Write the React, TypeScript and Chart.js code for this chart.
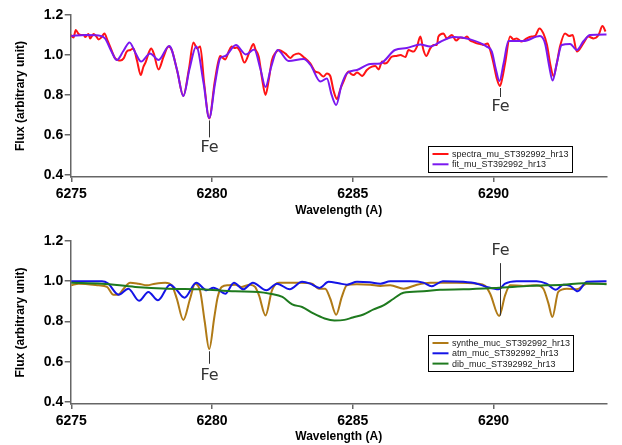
import React, { useEffect, useRef } from "react";
import { Chart, registerables } from "chart.js";
Chart.register(...registerables);

// ---- tick labels ----
const xTicks = [6275, 6280, 6285, 6290];
const yTicks = [0.4, 0.6, 0.8, 1.0, 1.2];

// ---- top panel: observed spectrum ----
const spectraWave = [6274.98, 6275.08, 6275.16, 6275.26, 6275.35, 6275.44, 6275.5, 6275.61, 6275.67, 6275.79, 6275.88, 6275.97, 6276.08, 6276.18, 6276.28, 6276.38, 6276.56, 6276.65, 6276.74, 6276.86, 6276.97, 6277.1, 6277.21, 6277.33, 6277.47, 6277.56, 6277.65, 6277.75, 6277.84, 6277.93, 6278.1, 6278.28, 6278.45, 6278.57, 6278.78, 6278.98, 6279.18, 6279.34, 6279.47, 6279.58, 6279.72, 6279.9, 6280.1, 6280.29, 6280.47, 6280.6, 6280.7, 6280.8, 6280.88, 6281.0, 6281.15, 6281.35, 6281.47, 6281.55, 6281.66, 6281.78, 6281.9, 6282.02, 6282.13, 6282.25, 6282.37, 6282.6, 6282.78, 6282.9, 6283.08, 6283.25, 6283.49, 6283.67, 6283.79, 6283.96, 6284.08, 6284.2, 6284.32, 6284.44, 6284.56, 6284.67, 6284.85, 6284.94, 6285.03, 6285.15, 6285.24, 6285.33, 6285.5, 6285.68, 6285.8, 6285.92, 6286.04, 6286.13, 6286.22, 6286.39, 6286.55, 6286.69, 6286.87, 6286.98, 6287.16, 6287.28, 6287.4, 6287.51, 6287.61, 6287.75, 6287.87, 6287.99, 6288.04, 6288.22, 6288.34, 6288.52, 6288.67, 6288.82, 6288.95, 6289.06, 6289.17, 6289.3, 6289.41, 6289.53, 6289.64, 6289.79, 6289.88, 6290.0, 6290.12, 6290.23, 6290.32, 6290.41, 6290.59, 6290.71, 6290.82, 6291.0, 6291.18, 6291.36, 6291.48, 6291.63, 6291.77, 6291.9, 6292.02, 6292.13, 6292.25, 6292.36, 6292.54, 6292.69, 6292.81, 6292.96, 6293.19, 6293.37, 6293.55, 6293.73, 6293.87, 6293.98];
const spectraFlux = [1.1, 1.088, 1.125, 1.105, 1.1, 1.1, 1.09, 1.105, 1.083, 1.105, 1.095, 1.078, 1.09, 1.108, 1.075, 1.042, 0.983, 0.975, 0.972, 0.983, 1.017, 1.025, 1.033, 0.975, 0.9, 0.94, 0.967, 1.01, 1.033, 1.008, 0.928, 0.992, 1.042, 1.025, 0.91, 0.795, 0.93, 1.062, 1.033, 1.042, 0.86, 0.683, 0.87, 0.995, 0.978, 1.02, 1.042, 1.035, 1.038, 1.017, 0.962, 1.022, 1.055, 1.025, 0.992, 0.88, 0.8, 0.88, 0.975, 1.01, 1.025, 1.008, 0.985, 1.0, 1.008, 0.99, 0.958, 0.917, 0.912, 0.892, 0.908, 0.895, 0.82, 0.78, 0.83, 0.867, 0.917, 0.905, 0.9, 0.912, 0.905, 0.895, 0.925, 0.942, 0.945, 0.928, 0.967, 0.958, 0.962, 0.992, 0.995, 1.0, 0.99, 1.025, 1.017, 1.042, 1.092, 1.025, 0.995, 1.033, 1.05, 1.05, 1.092, 1.108, 1.083, 1.1, 1.072, 1.088, 1.085, 1.092, 1.072, 1.065, 1.058, 1.055, 1.05, 1.058, 1.025, 0.958, 0.88, 0.845, 0.89, 0.958, 1.092, 1.078, 1.083, 1.067, 1.083, 1.092, 1.095, 1.133, 1.108, 1.05, 0.95, 0.895, 0.96, 1.042, 1.108, 1.095, 1.1, 1.017, 1.058, 1.092, 1.083, 1.1, 1.145, 1.117];

// ---- top panel: fit ----
const fitWave = [6275.0, 6275.5, 6275.97, 6276.2, 6276.42, 6276.62, 6276.85, 6277.07, 6277.28, 6277.48, 6277.8, 6278.1, 6278.48, 6278.75, 6278.98, 6279.2, 6279.44, 6279.7, 6279.9, 6280.11, 6280.29, 6280.47, 6280.85, 6281.2, 6281.5, 6281.72, 6281.9, 6282.1, 6282.33, 6282.72, 6283.25, 6283.5, 6283.85, 6284.08, 6284.25, 6284.41, 6284.6, 6284.79, 6285.15, 6285.62, 6285.98, 6286.5, 6286.92, 6287.4, 6287.75, 6288.1, 6288.58, 6289.17, 6289.76, 6289.94, 6290.08, 6290.21, 6290.36, 6290.53, 6291.06, 6291.65, 6291.83, 6291.97, 6292.1, 6292.25, 6292.42, 6292.72, 6292.96, 6293.2, 6293.43, 6294.02];
const fitFlux = [1.095, 1.1, 1.098, 1.083, 1.02, 0.975, 1.02, 1.063, 1.01, 0.967, 1.008, 0.975, 1.045, 0.93, 0.795, 0.93, 1.042, 0.86, 0.685, 0.86, 0.983, 0.995, 1.05, 1.003, 1.028, 0.93, 0.84, 0.94, 1.025, 0.97, 0.98, 0.95, 0.867, 0.883, 0.8, 0.75, 0.85, 0.908, 0.925, 0.955, 0.958, 1.025, 1.035, 1.053, 1.042, 1.065, 1.09, 1.078, 1.042, 1.017, 0.93, 0.87, 0.96, 1.07, 1.07, 1.095, 1.058, 0.95, 0.872, 0.96, 1.05, 1.055, 1.025, 1.07, 1.1, 1.103];

// ---- bottom panel: synthetic stellar ----
const syntheWave = [6275.0, 6275.26, 6275.97, 6276.27, 6276.5, 6276.66, 6276.86, 6277.09, 6277.39, 6277.69, 6277.98, 6278.34, 6278.57, 6278.75, 6278.98, 6279.22, 6279.4, 6279.58, 6279.74, 6279.9, 6280.08, 6280.2, 6280.35, 6280.58, 6280.82, 6281.05, 6281.35, 6281.53, 6281.67, 6281.9, 6282.13, 6282.37, 6283.14, 6283.55, 6283.79, 6284.02, 6284.2, 6284.41, 6284.61, 6284.79, 6285.15, 6285.62, 6285.98, 6286.33, 6286.81, 6287.28, 6287.75, 6288.69, 6289.41, 6289.7, 6289.88, 6290.2, 6290.41, 6290.59, 6291.06, 6291.53, 6291.77, 6291.95, 6292.09, 6292.3, 6292.6, 6292.96, 6293.31, 6294.02];
const syntheFlux = [0.98, 0.988, 0.98, 0.972, 0.933, 0.933, 0.963, 0.993, 0.988, 0.98, 0.988, 0.993, 0.98, 0.913, 0.808, 0.913, 0.988, 0.95, 0.8, 0.663, 0.82, 0.92, 0.972, 0.98, 0.983, 0.972, 0.983, 0.972, 0.93, 0.83, 0.955, 0.993, 0.993, 0.988, 0.963, 0.963, 0.913, 0.833, 0.922, 0.98, 0.985, 0.983, 0.977, 0.98, 0.963, 0.983, 0.993, 0.993, 0.988, 0.977, 0.938, 0.827, 0.93, 0.98, 0.977, 0.98, 0.963, 0.89, 0.822, 0.947, 0.963, 0.96, 0.988, 0.988];

// ---- bottom panel: telluric ----
const atmWave = [6275.0, 6275.5, 6276.09, 6276.3, 6276.68, 6277.03, 6277.41, 6277.74, 6278.08, 6278.51, 6278.72, 6279.02, 6279.44, 6279.81, 6280.05, 6280.17, 6280.47, 6280.78, 6281.11, 6281.45, 6281.93, 6282.31, 6282.76, 6283.2, 6283.49, 6283.82, 6284.14, 6284.5, 6284.79, 6285.15, 6285.6, 6285.98, 6286.33, 6287.04, 6287.51, 6287.8, 6288.2, 6288.93, 6289.41, 6289.76, 6290.18, 6290.41, 6290.82, 6291.53, 6291.88, 6292.21, 6292.48, 6292.72, 6292.99, 6293.31, 6294.02];
const atmFlux = [1.0, 1.0, 1.0, 0.99, 0.933, 0.963, 0.903, 0.947, 0.905, 0.983, 0.96, 0.918, 0.993, 0.955, 0.968, 0.962, 0.938, 0.993, 0.96, 0.993, 0.955, 0.988, 0.96, 0.997, 0.988, 0.967, 0.997, 0.99, 0.983, 0.997, 0.995, 0.988, 1.0, 1.0, 0.993, 0.975, 1.0, 0.997, 0.988, 0.972, 0.96, 0.988, 1.0, 1.0, 0.988, 0.958, 0.983, 0.977, 0.95, 0.997, 1.0];

// ---- bottom panel: diffuse interstellar band ----
const dibWave = [6275.0, 6276.09, 6277.27, 6278.45, 6279.63, 6280.82, 6281.65, 6282.07, 6282.5, 6282.85, 6283.2, 6283.6, 6284.0, 6284.35, 6284.7, 6285.0, 6285.38, 6285.74, 6286.09, 6286.45, 6286.8, 6287.51, 6288.1, 6288.93, 6290.1, 6291.3, 6292.48, 6293.19, 6294.02];
const dibFlux = [0.993, 0.988, 0.972, 0.963, 0.96, 0.95, 0.947, 0.938, 0.922, 0.885, 0.872, 0.84, 0.815, 0.805, 0.808, 0.82, 0.835, 0.86, 0.88, 0.913, 0.943, 0.95, 0.958, 0.96, 0.967, 0.977, 0.983, 0.99, 0.985];

// ---- Fe line markers (wavelength, line top/bottom flux, label flux) ----
const topFeWave = [6279.9, 6290.23];
const topFeLine = [[0.673, 0.588], [0.835, 0.79]];
const topFeText = [0.535, 0.74];
const botFeWave = [6279.9, 6290.23];
const botFeLine = [[0.652, 0.59], [1.09, 0.83]];
const botFeText = [0.53, 1.15];

const X_MIN = 6274.98;
const X_MAX = 6294.02;
const Y_MIN = 0.39;
const Y_MAX = 1.2;

const AXIS_COLOR = "#666";
const TICK_FONT = { family: "'Liberation Sans', Arial, sans-serif", size: 14, weight: "bold" as const };
const TITLE_FONT = { family: "'Liberation Sans', Arial, sans-serif", size: 12, weight: "bold" as const };

type Series = { label: string; wave: number[]; flux: number[]; color: string; order: number };

function pts(w: number[], f: number[]) {
  return w.map((x, i) => ({ x, y: f[i] }));
}

function makeConfig(p: {
  series: Series[];
  height: number;
  areaTop: number;
  areaBottom: number;
  xTitlePad: number;
  feWave: number[];
  feLine: number[][];
  feText: number[];
  legendLeft: number;
  legendTop: number;
}): any {
  const annotPlugin = {
    id: "annot",
    afterDatasetsDraw(chart: any) {
      const { ctx, scales } = chart;
      const xs = scales.x, ys = scales.y;
      ctx.save();
      ctx.strokeStyle = "#333";
      ctx.fillStyle = "#333";
      ctx.lineWidth = 1;
      ctx.font = "16px 'DejaVu Sans', sans-serif";
      ctx.textAlign = "center";
      ctx.textBaseline = "middle";
      p.feWave.forEach((w, i) => {
        const px = Math.round(xs.getPixelForValue(w)) + 0.5;
        ctx.beginPath();
        ctx.moveTo(px, ys.getPixelForValue(p.feLine[i][0]));
        ctx.lineTo(px, ys.getPixelForValue(p.feLine[i][1]));
        ctx.stroke();
        ctx.fillText("Fe", px, ys.getPixelForValue(p.feText[i]));
      });
      ctx.restore();
    },
    afterDraw(chart: any) {
      const { ctx, chartArea } = chart;
      ctx.save();
      ctx.font = "9px 'Liberation Sans', Arial, sans-serif";
      const textOff = 23.4;
      const rowH = 10.3;
      let maxW = 0;
      p.series.forEach((s) => (maxW = Math.max(maxW, ctx.measureText(s.label).width)));
      const bx = Math.round(chartArea.left + p.legendLeft) + 0.5;
      const by = Math.round(chartArea.top + p.legendTop) + 0.5;
      const bw = Math.round(textOff + maxW + 4);
      const bh = Math.round(rowH * p.series.length + 5.5);
      ctx.fillStyle = "#fff";
      ctx.fillRect(bx, by, bw, bh);
      ctx.strokeStyle = "#000";
      ctx.lineWidth = 1;
      ctx.strokeRect(bx, by, bw, bh);
      p.series.forEach((s, i) => {
        const ry = by + 7.5 + i * rowH;
        ctx.strokeStyle = s.color;
        ctx.lineWidth = 2;
        ctx.beginPath();
        ctx.moveTo(bx + 4, ry);
        ctx.lineTo(bx + 20, ry);
        ctx.stroke();
        ctx.fillStyle = "#222";
        ctx.textAlign = "left";
        ctx.textBaseline = "middle";
        ctx.fillText(s.label, bx + textOff, ry + 0.5);
      });
      ctx.restore();
    },
  };

  return {
    type: "line",
    data: {
      datasets: p.series.map((s) => ({
        label: s.label,
        data: pts(s.wave, s.flux),
        borderColor: s.color,
        backgroundColor: s.color,
        borderWidth: 2,
        pointRadius: 0,
        fill: false,
        cubicInterpolationMode: "monotone",
        order: s.order,
      })),
    },
    options: {
      responsive: false,
      maintainAspectRatio: false,
      animation: false,
      events: [],
      layout: { padding: { left: 0, top: p.areaTop, right: 622 - 606.7, bottom: 0 } },
      plugins: { legend: { display: false }, tooltip: { enabled: false } },
      scales: {
        x: {
          type: "linear",
          min: X_MIN,
          max: X_MAX,
          afterBuildTicks: (s: any) => {
            s.ticks = xTicks.map((v) => ({ value: v }));
          },
          afterFit: (s: any) => {
            s.height = p.height - p.areaBottom;
          },
          ticks: { font: TICK_FONT, color: "#000", padding: 3.6, autoSkip: false, maxRotation: 0, callback: (v: any) => String(v) },
          grid: { display: true, drawOnChartArea: false, drawTicks: true, tickLength: 5, color: AXIS_COLOR, lineWidth: 1.5 },
          border: { display: true, color: AXIS_COLOR, width: 1.5 },
          title: { display: true, text: "Wavelength (A)", font: TITLE_FONT, color: "#000", padding: { top: 0, bottom: p.xTitlePad } },
        },
        y: {
          type: "linear",
          min: Y_MIN,
          max: Y_MAX,
          afterBuildTicks: (s: any) => {
            s.ticks = yTicks.map((v) => ({ value: v }));
          },
          afterFit: (s: any) => {
            s.width = 70.7;
          },
          ticks: { font: TICK_FONT, color: "#000", padding: 1.5, autoSkip: false, callback: (v: any) => Number(v).toFixed(1) },
          grid: { display: true, drawOnChartArea: false, drawTicks: true, tickLength: 6, color: AXIS_COLOR, lineWidth: 1.5 },
          border: { display: true, color: AXIS_COLOR, width: 1.5 },
          title: { display: true, text: "Flux (arbitrary unit)", font: TITLE_FONT, color: "#000", padding: { top: 13.8, bottom: 0 } },
        },
      },
    },
    plugins: [annotPlugin],
  };
}

export default function App() {
  const topRef = useRef<HTMLCanvasElement>(null);
  const botRef = useRef<HTMLCanvasElement>(null);

  useEffect(() => {
    document.body.style.margin = "0";
    const top = new Chart(
      topRef.current!,
      makeConfig({
        series: [
          { label: "spectra_mu_ST392992_hr13", wave: spectraWave, flux: spectraFlux, color: "#ff1414", order: 2 },
          { label: "fit_mu_ST392992_hr13", wave: fitWave, flux: fitFlux, color: "#7a18f0", order: 1 },
        ],
        height: 222,
        areaTop: 15,
        areaBottom: 177,
        xTitlePad: 3.8,
        feWave: topFeWave,
        feLine: topFeLine,
        feText: topFeText,
        legendLeft: 357.6,
        legendTop: 131,
      })
    );
    const bot = new Chart(
      botRef.current!,
      makeConfig({
        series: [
          { label: "synthe_muc_ST392992_hr13", wave: syntheWave, flux: syntheFlux, color: "#b07a16", order: 3 },
          { label: "atm_muc_ST392992_hr13", wave: atmWave, flux: atmFlux, color: "#1414e6", order: 2 },
          { label: "dib_muc_ST392992_hr13", wave: dibWave, flux: dibFlux, color: "#1e7a1e", order: 1 },
        ],
        height: 223,
        areaTop: 19,
        areaBottom: 182,
        xTitlePad: 0.8,
        feWave: botFeWave,
        feLine: botFeLine,
        feText: botFeText,
        legendLeft: 357,
        legendTop: 94,
      })
    );
    return () => {
      top.destroy();
      bot.destroy();
    };
  }, []);

  return (
    <div style={{ position: "absolute", left: 0, top: 0, width: 622, height: 445, background: "#fff" }}>
      <canvas ref={topRef} width={622} height={222} style={{ display: "block" }} />
      <canvas ref={botRef} width={622} height={223} style={{ display: "block" }} />
    </div>
  );
}
